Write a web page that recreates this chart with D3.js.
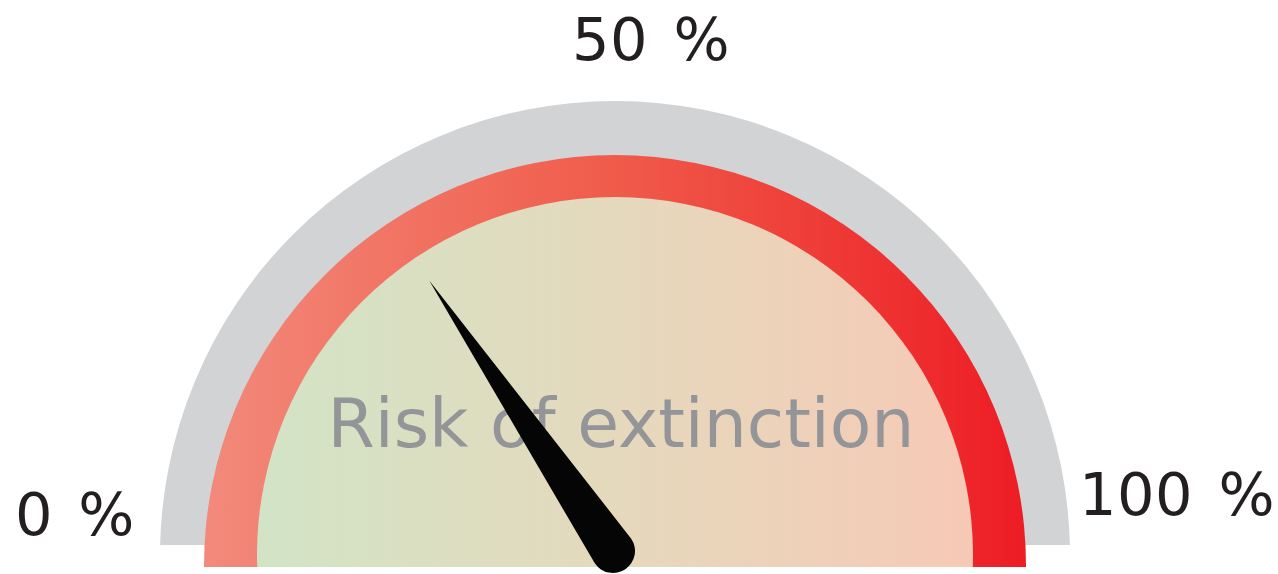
<!DOCTYPE html>
<html>
<head>
<meta charset="utf-8">
<script src="https://cdn.jsdelivr.net/npm/d3@7"></script>
<style>
  body { margin: 0; background: #ffffff; }
  svg text { font-family: "DejaVu Sans", Verdana, sans-serif; }
</style>
</head>
<body>
<div id="gauge"></div>
<script>
// data
var riskValue = [31];
var tickValues = [0, 50, 100];
var tickLabels = ["0 %", "50 %", "100 %"];
var chartTitle = ["Risk of extinction"];

var svgWidth = 1278;
var svgHeight = 574;

var svg = d3.select("#gauge")
    .append("svg")
    .attr("width", svgWidth)
    .attr("height", svgHeight);

var defs = svg.append("defs");

// gradients
var redGrad = defs.append("linearGradient")
    .attr("id", "redGrad")
    .attr("gradientUnits", "userSpaceOnUse")
    .attr("x1", 203).attr("x2", 1028).attr("y1", 0).attr("y2", 0);
redGrad.append("stop").attr("offset", "0%").attr("stop-color", "#f28a7b");
redGrad.append("stop").attr("offset", "50%").attr("stop-color", "#f05b4a");
redGrad.append("stop").attr("offset", "100%").attr("stop-color", "#ed1c24");

var fillGrad = defs.append("linearGradient")
    .attr("id", "fillGrad")
    .attr("gradientUnits", "userSpaceOnUse")
    .attr("x1", 257).attr("x2", 973).attr("y1", 0).attr("y2", 0);
fillGrad.append("stop").attr("offset", "0%").attr("stop-color", "#d2e4c6");
fillGrad.append("stop").attr("offset", "50%").attr("stop-color", "#e5d9bd");
fillGrad.append("stop").attr("offset", "100%").attr("stop-color", "#f6c9b5");

// clip lines at the bottom of the dial
defs.append("clipPath").attr("id", "clipGrey")
    .append("rect").attr("x", 0).attr("y", 0).attr("width", svgWidth).attr("height", 545);
defs.append("clipPath").attr("id", "clipRed")
    .append("rect").attr("x", 0).attr("y", 0).attr("width", svgWidth).attr("height", 567);

var cx = 615;

// dial background
svg.append("circle")
    .attr("cx", cx).attr("cy", 556).attr("r", 455)
    .attr("fill", "#d1d3d4")
    .attr("clip-path", "url(#clipGrey)");

svg.append("circle")
    .attr("cx", cx).attr("cy", 566).attr("r", 411)
    .attr("fill", "url(#redGrad)")
    .attr("clip-path", "url(#clipRed)");

svg.append("circle")
    .attr("cx", cx).attr("cy", 555).attr("r", 358)
    .attr("fill", "url(#fillGrad)")
    .attr("clip-path", "url(#clipRed)");

// title in the dial
svg.append("text")
    .attr("x", 621)
    .attr("y", 447)
    .attr("text-anchor", "middle")
    .attr("font-size", 68)
    .attr("fill", "#939598")
    .text(chartTitle[0]);

// tick labels
var labelPos = [
    { x: 75, y: 535 },
    { x: 651, y: 60 },
    { x: 1177, y: 515 }
];
svg.selectAll(".tickLabel")
    .data(tickValues)
    .enter()
    .append("text")
    .attr("class", "tickLabel")
    .attr("x", (d, i) => labelPos[i].x)
    .attr("y", (d, i) => labelPos[i].y)
    .attr("text-anchor", "middle")
    .attr("font-size", 59)
    .attr("word-spacing", 6)
    .attr("letter-spacing", 0.5)
    .attr("fill", "#231f20")
    .text((d, i) => tickLabels[i]);

// needle
var angleScale = d3.scaleLinear()
    .domain([0, 100])
    .range([-Math.PI / 2, Math.PI / 2]);

var pivot = { x: 613, y: 551 };
var needleLen = 327;
var baseR = 22;

function needlePath(v) {
    var a = angleScale(v);
    var ux = Math.sin(a), uy = -Math.cos(a);   // along needle
    var px = -uy, py = ux;                     // perpendicular
    var p = d3.path();
    p.moveTo(pivot.x + ux * needleLen, pivot.y + uy * needleLen);
    p.lineTo(pivot.x + px * baseR, pivot.y + py * baseR);
    p.arc(pivot.x, pivot.y, baseR, Math.atan2(py, px), Math.atan2(-py, -px), false);
    p.closePath();
    return p.toString();
}

svg.selectAll(".needle")
    .data(riskValue)
    .enter()
    .append("path")
    .attr("class", "needle")
    .attr("d", d => needlePath(d))
    .attr("fill", "#050505");
</script>
</body>
</html>
